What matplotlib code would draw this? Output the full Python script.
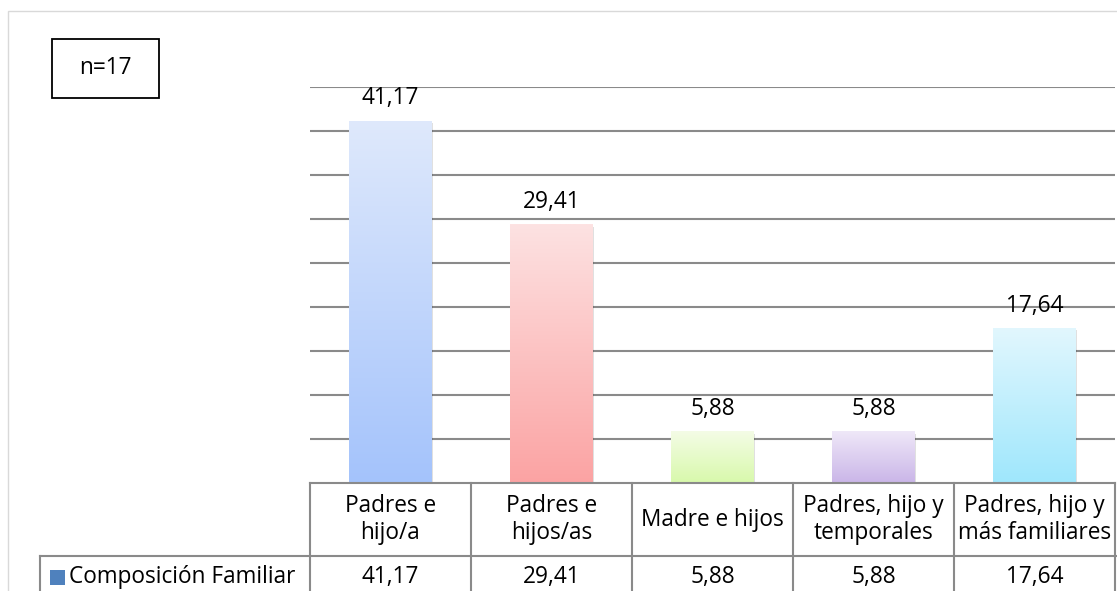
import matplotlib.pyplot as plt
import numpy as np
from matplotlib.colors import LinearSegmentedColormap
from matplotlib.lines import Line2D
from matplotlib.patches import Rectangle
from matplotlib.transforms import blended_transform_factory

plt.rcParams["font.family"] = ["Open Sans", "DejaVu Sans"]

categories = [
    "Padres e\nhijo/a",
    "Padres e\nhijos/as",
    "Madre e hijos",
    "Padres, hijo y\ntemporales",
    "Padres, hijo y\nmás familiares",
]
values = [41.17, 29.41, 5.88, 5.88, 17.64]
labels = ["41,17", "29,41", "5,88", "5,88", "17,64"]
series_name = "Composición Familiar"
top_colors = ["#dfe9fc", "#fde2e2", "#f4fce6", "#efe8f8", "#e2f7fe"]
bottom_colors = ["#a4c3fb", "#fba3a3", "#d8f9ab", "#cab5e8", "#9fe7fc"]

FS = 16.3
W, H = 1117, 591
fig = plt.figure(figsize=(W / 100, H / 100), dpi=100)


def fx(px):
    return px / W


def fy(py):
    return 1 - py / H


# plot area
ax = fig.add_axes([fx(310), fy(483), fx(1115) - fx(310), fy(87) - fy(483)])
ax.set_xlim(-0.5, len(values) - 0.5)
ax.set_ylim(0, 45)
ax.set_yticks(np.arange(5, 50, 5))
ax.yaxis.grid(True, color="#8a8a8a", linewidth=1.5)
ax.set_axisbelow(True)
ax.tick_params(left=False, bottom=False, labelleft=False, labelbottom=False)
for s in ax.spines.values():
    s.set_visible(False)

width = 0.51
grad = np.linspace(1, 0, 256).reshape(-1, 1)
for i, v in enumerate(values):
    cmap = LinearSegmentedColormap.from_list("g", [bottom_colors[i], top_colors[i]])
    # soft shadow
    sh = Rectangle((i - width / 2 + 0.012, -0.3), width, v, facecolor="#000000",
                   alpha=0.12, edgecolor="none", zorder=2)
    ax.add_patch(sh)
    rect = Rectangle((i - width / 2, 0), width, v, facecolor="none", edgecolor="none", zorder=3)
    ax.add_patch(rect)
    im = ax.imshow(grad, cmap=cmap, aspect="auto", zorder=3,
                   extent=(i - width / 2, i + width / 2, 0, v), vmin=0, vmax=1)
    im.set_clip_path(rect)
    ax.annotate(labels[i], (i, v), xytext=(0, 16), textcoords="offset points",
                ha="center", va="center", fontsize=FS, color="#000000", annotation_clip=False)
ax.set_xlim(-0.5, len(values) - 0.5)
ax.set_ylim(0, 45)

# data table
tr = blended_transform_factory(ax.transData, fig.transFigure)
grid_c = "#8a8a8a"
y_head_top, y_head_bot = fy(483), fy(556)
for k in range(len(values) + 1):
    x = k - 0.5
    fig.add_artist(Line2D([x, x], [y_head_top, 0], transform=tr, color=grid_c, lw=1.5))
fig.add_artist(Line2D([-0.5, len(values) - 0.5], [y_head_top, y_head_top], transform=tr,
                      color=grid_c, lw=1.5))
fig.add_artist(Line2D([fx(40), 1], [y_head_bot, y_head_bot], color=grid_c, lw=1.5))
fig.add_artist(Line2D([fx(40), fx(40)], [y_head_bot, 0], color=grid_c, lw=1.5))
for i, c in enumerate(categories):
    fig.text(i, (y_head_top + y_head_bot) / 2, c, transform=tr, ha="center", va="center",
             fontsize=FS, linespacing=1.12)
    fig.text(i, fy(577), labels[i], transform=tr, ha="center", va="center", fontsize=FS)

fig.add_artist(Rectangle((fx(50), fy(585)), fx(15), fy(570) - fy(585), facecolor="#4f81bd",
                         edgecolor="none"))
fig.text(fx(69), fy(577), series_name, ha="left", va="center", fontsize=FS)

# outer chart border
fig.add_artist(Rectangle((fx(8), -0.01), 1.0, fy(11) + 0.01, facecolor="none",
                         edgecolor="#d9d9d9", lw=1))

# n box
fig.add_artist(Rectangle((fx(52), fy(98)), fx(159) - fx(52), fy(39) - fy(98),
                         facecolor="white", edgecolor="black", lw=1.3))
fig.text((fx(52) + fx(159)) / 2, (fy(39) + fy(98)) / 2, "n=17", ha="center", va="center",
         fontsize=FS)

fig.savefig("out.png", dpi=100)
